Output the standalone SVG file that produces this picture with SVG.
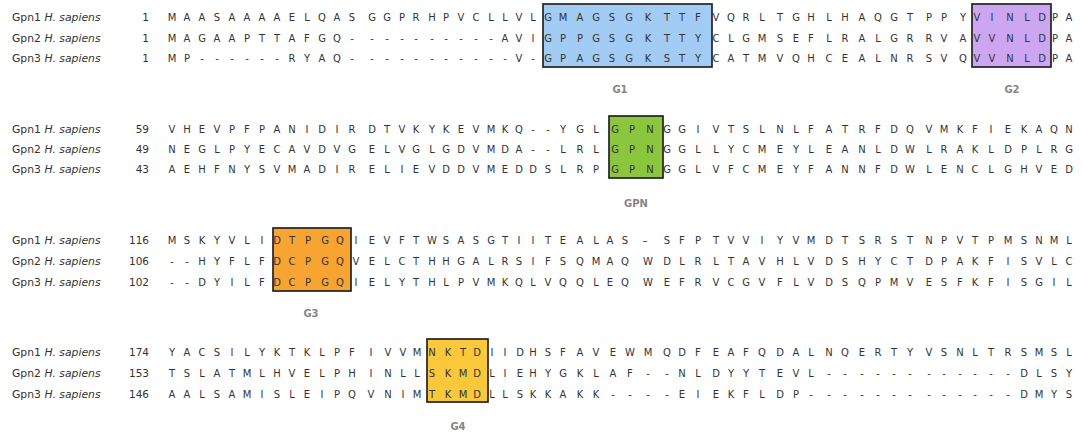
<svg xmlns="http://www.w3.org/2000/svg" width="1082" height="432" viewBox="0 0 1082 432">
<style>
.lbl{font-family:"DejaVu Sans",Verdana,sans-serif;font-size:10.8px;fill:#333}
.num{font-family:"DejaVu Sans",Verdana,sans-serif;font-size:10.5px;fill:#333;text-anchor:end}
.seq{font-family:"DejaVu Sans",Verdana,sans-serif;font-size:10px;fill:#333;text-anchor:middle}
.box{stroke:#222;stroke-width:1.7}
.tag{font-family:"DejaVu Sans",Verdana,sans-serif;font-size:10px;font-weight:bold;fill:#858585;text-anchor:middle}
</style>
<rect width="1082" height="432" fill="#ffffff"/>

<g id="block1">
<rect class="box" x="543" y="4" width="169" height="63" fill="#a3ccf4"/>
<rect class="box" x="972" y="4" width="79" height="63" fill="#cda6f2"/>
<text class="lbl" x="12" y="21">Gpn1 <tspan font-style="italic">H. sapiens</tspan></text>
<text class="lbl" x="12" y="41.5">Gpn2 <tspan font-style="italic">H. sapiens</tspan></text>
<text class="lbl" x="12" y="62">Gpn3 <tspan font-style="italic">H. sapiens</tspan></text>
<text class="num" x="149" y="21">1</text>
<text class="num" x="149" y="41.5">1</text>
<text class="num" x="149" y="62">1</text>
<text class="seq" y="21" x="172 187 202 217 232 247 262 277 292 307 322 337 352 372 387 402 416 432 446 461 476 491 505 519 533 548 563 580 596 612 629 648 667 682 698 716 731 746 762 780 796 811 829 845 862 878 894 910 929 944 963 977 992 1010 1027 1042 1055 1069">MAASAAAAELQASGGPRHPVCLLVLGMAGSGKTTFVQRLTGHLHAQGTPPYVINLDPA</text>
<text class="seq" y="41.5" x="172 187 202 217 232 247 262 277 292 307 322 337 352 372 387 402 416 432 446 461 476 491 505 519 533 548 563 580 596 612 629 648 667 682 698 716 731 746 762 780 796 811 829 845 862 878 894 910 929 944 963 977 992 1010 1027 1042 1055 1069">MAGAAPTTAFGQ----------AVIGPPGSGKTTYCLGMSEFLRALGRRVAVVNLDPA</text>
<text class="seq" y="62" x="172 187 202 217 232 247 262 277 292 307 322 337 352 372 387 402 416 432 446 461 476 491 505 519 533 548 563 580 596 612 629 648 667 682 698 716 731 746 762 780 796 811 829 845 862 878 894 910 929 944 963 977 992 1010 1027 1042 1055 1069">MP------RYAQ-----------V-GPAGSGKSTYCATMVQHCEALNRSVQVVNLDPA</text>
<text class="tag" x="620" y="93">G1</text>
<text class="tag" x="1012" y="93">G2</text>
</g>

<g id="block2">
<rect class="box" x="609" y="116" width="54" height="62" fill="#8cc63e"/>
<text class="lbl" x="12" y="132.5">Gpn1 <tspan font-style="italic">H. sapiens</tspan></text>
<text class="lbl" x="12" y="153">Gpn2 <tspan font-style="italic">H. sapiens</tspan></text>
<text class="lbl" x="12" y="173">Gpn3 <tspan font-style="italic">H. sapiens</tspan></text>
<text class="num" x="149" y="132.5">59</text>
<text class="num" x="149" y="153">49</text>
<text class="num" x="149" y="173">43</text>
<text class="seq" y="132.5" x="172 187 202 217 232 247 262 277 292 307 322 337 352 372 387 402 416 432 446 461 476 491 505 519 533 548 563 580 596 615 632 650 667 682 698 716 731 746 762 780 796 811 829 845 862 878 894 910 929 944 960 975 991 1008 1024 1039 1054 1069">VHEVPFPANIDIRDTVKYKEVMKQ--YGLGPNGGIVTSLNLFATRFDQVMKFIEKAQN</text>
<text class="seq" y="153" x="172 187 202 217 232 247 262 277 292 307 322 337 352 372 387 402 416 432 446 461 476 491 505 519 533 548 563 580 596 615 632 650 667 682 698 716 731 746 762 780 796 811 829 845 862 878 894 910 929 944 960 975 991 1008 1024 1039 1054 1069">NEGLPYECAVDVGELVGLGDVMDA--LRLGPNGGLLYCMEYLEANLDWLRAKLDPLRG</text>
<text class="seq" y="173" x="172 187 202 217 232 247 262 277 292 307 322 337 352 372 387 402 416 432 446 461 476 491 505 519 533 548 563 580 596 615 632 650 667 682 698 716 731 746 762 780 796 811 829 845 862 878 894 910 929 944 960 975 991 1008 1024 1039 1054 1069">AEHFNYSVMADIRELIEVDDVMEDDSLRPGPNGGLVFCMEYFANNFDWLENCLGHVED</text>
<text class="tag" x="636" y="206.5">GPN</text>
</g>

<g id="block3">
<rect class="box" x="273" y="228" width="78" height="63" fill="#f7a432"/>
<text class="lbl" x="12" y="244">Gpn1 <tspan font-style="italic">H. sapiens</tspan></text>
<text class="lbl" x="12" y="265">Gpn2 <tspan font-style="italic">H. sapiens</tspan></text>
<text class="lbl" x="12" y="285.5">Gpn3 <tspan font-style="italic">H. sapiens</tspan></text>
<text class="num" x="149" y="244">116</text>
<text class="num" x="149" y="265">106</text>
<text class="num" x="149" y="285.5">102</text>
<text class="seq" y="244" x="172 187 202 217 232 247 262 277 292 308 325 340 356 372 387 402 416 432 446 461 476 491 505 519 533 548 563 580 596 610 625 645 667 682 698 716 731 746 762 780 796 811 829 845 862 878 894 910 929 944 960 975 991 1008 1024 1039 1054 1069">MSKYVLIDTPGQIEVFTWSASGTIITEALAS–SFPTVVIYVMDTSRSTNPVTPMSNML</text>
<text class="seq" y="265" x="172 187 202 217 232 247 262 277 292 308 325 340 356 372 387 402 416 432 446 461 476 491 505 519 533 548 563 580 596 610 625 648 667 682 698 716 731 746 762 780 796 811 829 845 862 878 894 910 929 944 960 975 991 1008 1024 1039 1054 1069">--HYFLFDCPGQVELCTHHGALRSIFSQMAQWDLRLTAVHLVDSHYCTDPAKFISVLC</text>
<text class="seq" y="285.5" x="172 187 202 217 232 247 262 277 292 308 325 340 356 372 387 402 416 432 446 461 476 491 505 519 533 548 563 580 596 610 625 648 667 682 698 716 731 746 762 780 796 811 829 845 862 878 894 910 929 944 960 975 991 1008 1024 1039 1054 1069">--DYILFDCPGQIELYTHLPVMKQLVQQLEQWEFRVCGVFLVDSQPMVESFKFISGIL</text>
<text class="tag" x="311" y="317">G3</text>
</g>

<g id="block4">
<rect class="box" x="427" y="339" width="61" height="63" fill="#fbc73b"/>
<text class="lbl" x="12" y="356">Gpn1 <tspan font-style="italic">H. sapiens</tspan></text>
<text class="lbl" x="12" y="377">Gpn2 <tspan font-style="italic">H. sapiens</tspan></text>
<text class="lbl" x="12" y="397.5">Gpn3 <tspan font-style="italic">H. sapiens</tspan></text>
<text class="num" x="149" y="356">174</text>
<text class="num" x="149" y="377">153</text>
<text class="num" x="149" y="397.5">146</text>
<text class="seq" y="356" x="172 187 202 217 232 247 262 277 292 307 322 337 352 371 388 403 417 432 448 463 477 492 505 520 533 548 563 580 596 613 630 648 667 682 698 716 731 746 762 780 796 811 829 845 862 878 894 910 929 944 960 975 991 1008 1024 1039 1054 1069">YACSILYKTKLPFIVVMNKTDIIDHSFAVEWMQDFEAFQDALNQERTYVSNLTRSMSL</text>
<text class="seq" y="377" x="172 187 202 217 232 247 262 277 292 307 322 337 352 371 388 403 417 432 448 463 477 492 505 520 533 548 563 580 596 613 630 648 667 682 698 716 731 746 762 780 796 811 829 845 862 878 894 910 929 944 960 975 991 1008 1024 1039 1054 1069">TSLATMLHVELPHINLLSKMDLIEHYGKLAF--NLDYYTEVL------------DLSY</text>
<text class="seq" y="397.5" x="172 187 202 217 232 247 262 277 292 307 322 337 352 371 388 403 417 432 448 463 477 492 505 520 533 548 563 580 596 613 630 648 667 682 698 716 731 746 762 780 796 811 829 845 862 878 894 910 929 944 960 975 991 1008 1024 1039 1054 1069">AALSAMISLEIPQVNIMTKMDLLSKKAKK----EIEKFLDP-------------DMYS</text>
<text class="tag" x="458" y="430">G4</text>
</g>
</svg>
